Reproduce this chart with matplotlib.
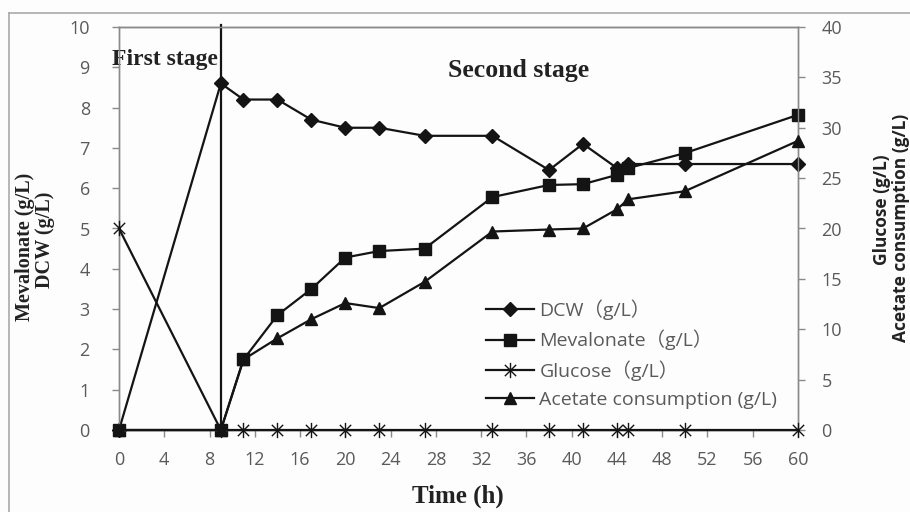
import numpy as np
import matplotlib
matplotlib.use("Agg")
import matplotlib.pyplot as plt
from matplotlib.path import Path
from matplotlib.lines import Line2D

# sampling times (h)
time_h = [0, 9, 11, 14, 17, 20, 23, 27, 33, 38, 41, 44, 45, 50, 60]

# left axis (g/L)
dcw = [0, 8.6, 8.2, 8.2, 7.7, 7.5, 7.5, 7.3, 7.3, 6.45, 7.1, 6.5, 6.6, 6.6, 6.6]
mevalonate = [0, 0, 1.75, 2.85, 3.5, 4.28, 4.44, 4.5, 5.78, 6.08, 6.1, 6.33, 6.5, 6.87, 7.82]

# right axis (g/L)
glucose = [20, 0, 0, 0, 0, 0, 0, 0, 0, 0, 0, 0, 0, 0, 0]
acetate = [0, 0, 7.0, 9.1, 11.0, 12.6, 12.1, 14.7, 19.7, 19.9, 20.0, 21.9, 22.9, 23.7, 28.7]

x_ticks = list(range(0, 61, 4))
left_ticks = list(range(0, 11))
right_ticks = list(range(0, 41, 5))

labels = ["DCW\uff08g/L\uff09", "Mevalonate\uff08g/L\uff09",
          "Glucose\uff08g/L\uff09", "Acetate consumption (g/L)"]

sans = ["Open Sans", "Noto Sans CJK SC", "DejaVu Sans"]
serif = "Liberation Serif"
grey = "#5a5a5a"
ink = "#141414"

# excel style asterisk: X plus vertical bar
star = Path([(-1, -1), (1, 1), (-1, 1), (1, -1), (0, -1.35), (0, 1.35)],
            [Path.MOVETO, Path.LINETO, Path.MOVETO, Path.LINETO, Path.MOVETO, Path.LINETO])

fig = plt.figure(figsize=(9.1, 5.12), dpi=100)
fig.patch.set_facecolor("#fdfdfd")
ax = fig.add_axes([119/910, 1-430/512, (798-119)/910, (430-27)/512])
ax.set_facecolor("none")
ax2 = ax.twinx()

l1, = ax.plot(time_h, dcw, color=ink, lw=1.6, marker="D", ms=7.5, clip_on=False, zorder=5)
l2, = ax.plot(time_h, mevalonate, color=ink, lw=1.6, marker="s", ms=9, clip_on=False, zorder=5)
l3, = ax2.plot(time_h, glucose, color=ink, lw=1.6, marker=star, ms=11, mew=1.0, clip_on=False, zorder=5)
l4, = ax2.plot(time_h, acetate, color=ink, lw=1.6, marker="^", ms=9, clip_on=False, zorder=5)

ax.axvline(9, color=ink, lw=1.6, ymax=1.005, clip_on=False)

ax.set_xlim(0, 60)
ax.set_ylim(0, 10)
ax2.set_ylim(0, 40)
ax.set_xticks(x_ticks)
ax.set_yticks(left_ticks)
ax2.set_yticks(right_ticks)

for a in (ax, ax2):
    for s in a.spines.values():
        s.set_color("#8a8a8a")
        s.set_linewidth(1.0)
    a.tick_params(colors="#8a8a8a", labelcolor=grey, length=5, width=1.0, labelsize=13)
    for t in a.get_xticklabels() + a.get_yticklabels():
        t.set_family(sans)
ax.spines["bottom"].set_color("#333333")
ax.spines["top"].set_color("#555555")
ax.tick_params(axis="x", pad=10)
ax2.tick_params(axis="y", pad=12)
ax.tick_params(axis="y", pad=16)

ax.text(-0.6, 9.05, "First stage", family=serif, weight="bold", fontsize=17, color="#222222")
ax.text(29.1, 8.75, "Second stage", family=serif, weight="bold", fontsize=18.5, color="#222222")

fig.text(458/910, 1-496/512, "Time (h)", family=serif, weight="bold", fontsize=18,
         color="#222222", ha="center", va="center")
fig.text(25/910, 1-247/512, "Mevalonate (g/L)", family=serif, weight="bold", fontsize=14.5,
         color="#222222", ha="center", va="center", rotation=90)
fig.text(45/910, 1-240/512, "DCW (g/L)", family=serif, weight="bold", fontsize=14.5,
         color="#222222", ha="center", va="center", rotation=90)
fig.text(882/910, 1-210/512, "Glucose (g/L)", family=sans, weight="bold", fontsize=12.5,
         color="#222222", ha="center", va="center", rotation=90)
fig.text(901/910, 1-228/512, "Acetate consumption (g/L)", family=sans, weight="bold", fontsize=12.5,
         color="#222222", ha="center", va="center", rotation=90)

leg = ax2.legend([l1, l2, l3, l4], labels, loc="upper left",
                 bbox_to_anchor=(486/910, 1-299/512), bbox_transform=fig.transFigure,
                 frameon=False, borderpad=0, borderaxespad=0, handlelength=2.45,
                 handletextpad=0.3, labelspacing=0.52,
                 prop={"family": sans, "size": 14})
for t in leg.get_texts():
    t.set_color(grey)

# outer frame
fig.add_artist(Line2D([9/910, 9/910], [0, 1-13/512], color="#aaaaaa", lw=1.2))
fig.add_artist(Line2D([9/910, 1], [1-13/512, 1-13/512], color="#aaaaaa", lw=1.2))

fig.savefig("out.png", dpi=100, facecolor=fig.get_facecolor())
